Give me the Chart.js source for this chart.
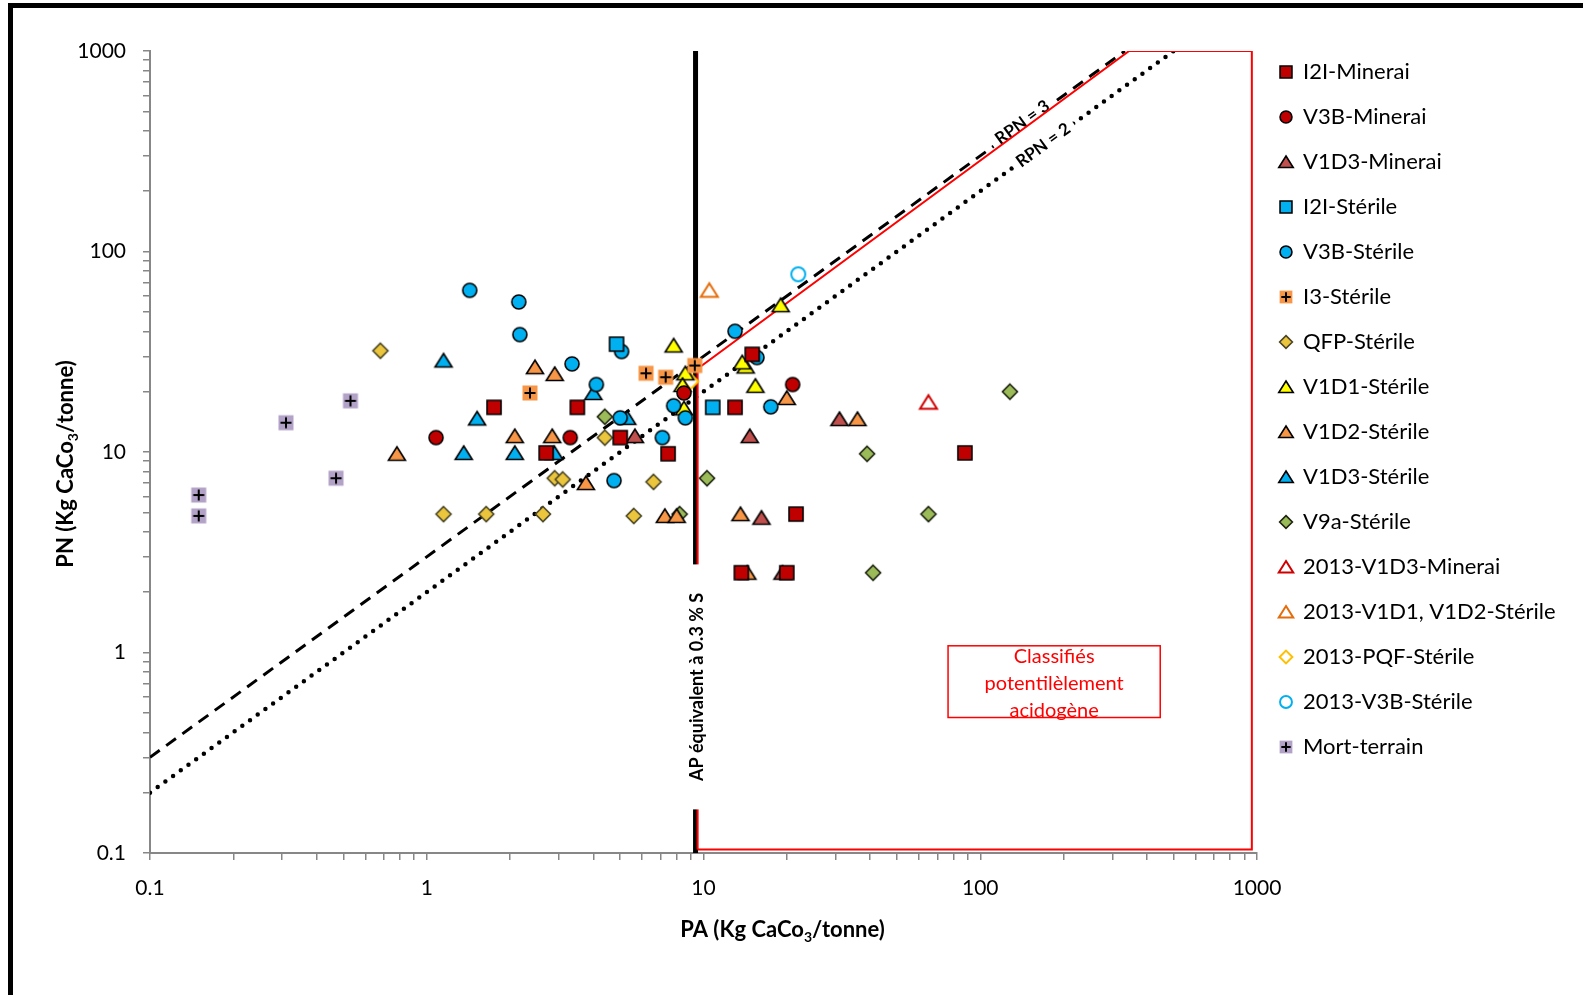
<!DOCTYPE html>
<html lang="fr">
  <head>
    <meta charset="UTF-8" />
    <title>PN vs PA</title>
    <script src="https://cdn.jsdelivr.net/npm/chart.js"></script>
    <style>
      html, body { margin: 0; padding: 0; background: #fff; }
      #wrap { width: 1593px; height: 995px; }
    </style>
  </head>
  <body>
    <div id="wrap"><canvas id="chart" width="1593" height="995"></canvas></div>
    <script>
      // --- donnees (PA, PN) en kg CaCO3/tonne ---
      const i2iMinerai = [[1.75, 16.7], [3.5, 16.7], [2.7, 9.9], [5.0, 11.8], [7.45, 9.8], [15, 30.7], [13, 16.7], [88, 9.9], [21.6, 4.9], [13.7, 2.5], [20, 2.5]];
      const v3bMinerai = [[1.08, 11.8], [3.3, 11.8], [8.5, 19.7], [21, 21.7]];
      const v1d3Minerai = [[5.65, 12], [14.7, 12], [31, 14.6], [16.2, 4.7], [19.3, 2.5]];
      const i2iSterile = [[4.85, 34.5], [10.8, 16.7]];
      const v3bSterile = [[1.43, 64], [2.15, 56], [2.17, 38.5], [3.35, 27.5], [5.06, 31.7], [4.1, 21.7], [5.0, 14.8], [7.1, 11.8], [4.75, 7.2], [7.8, 17], [8.6, 14.8], [13, 40], [15.6, 29.6], [17.5, 16.8]];
      const i3Sterile = [[2.36, 19.7], [6.2, 24.7], [7.3, 23.6], [9.3, 27]];
      const qfpSterile = [[0.68, 32], [1.15, 4.9], [1.64, 4.9], [2.63, 4.9], [2.9, 7.4], [3.1, 7.3], [4.4, 11.8], [6.6, 7.1], [5.6, 4.8]];
      const v1d1Sterile = [[7.8, 34], [8.6, 24.7], [8.4, 21.6], [8.5, 16.5], [19, 54], [14.2, 26.7], [13.8, 28], [15.4, 21.4]];
      const v1d2Sterile = [[0.78, 9.8], [2.46, 26.5], [2.9, 24.5], [2.08, 12], [2.84, 12], [3.76, 7.0], [7.25, 4.8], [8.0, 4.8], [20, 18.6], [36, 14.6], [13.6, 4.9], [14.4, 2.5]];
      const v1d3Sterile = [[1.15, 28.6], [1.52, 14.7], [1.36, 9.9], [2.08, 9.9], [2.89, 9.9], [4.0, 19.7], [5.3, 14.8]];
      const v9aSterile = [[4.4, 15], [10.3, 7.4], [8.2, 4.9], [128, 20], [39, 9.8], [65, 4.9], [41, 2.5]];
      const v1d3Minerai2013 = [[65, 17.7]];
      const v1d1v1d2Sterile2013 = [[10.5, 64]];
      const pqfSterile2013 = [[9.0, 22.5]];
      const v3bSterile2013 = [[22, 77]];
      const mortTerrain = [[0.15, 6.1], [0.15, 4.8], [0.31, 14], [0.47, 7.4], [0.53, 18]];

      // droites de reference
      const rpn3Line = [[0.1, 0.3], [333.3, 1000]];
      const rpn2Line = [[0.1, 0.2], [500, 1000]];
      const apLimit = [[9.36, 0.1], [9.36, 1000]];
      const acidZone = [[9.52, 0.104], [9.52, 26], [345, 1000], [958, 1000], [958, 0.104], [9.52, 0.104]];

      const xTickLabels = ["0.1", "1", "10", "100", "1000"];
      const yTickLabels = ["0.1", "1", "10", "100", "1000"];
      const rpnLabels = [{ text: "RPN = 3", x: 142, y: 440 }, { text: "RPN = 2", x: 169, y: 339 }];
      const apLabel = { text: "AP équivalent à 0.3 % S", x: 9.42, y0: 0.165, y1: 2.75 };
      const zoneBox = { x0: 76.5, x1: 447, y0: 1.08, y1: 0.474, lines: ["Classifiés", "potentilèlement", "acidogène"] };

      const FONT = "Lato, 'Open Sans', sans-serif";

      // petits marqueurs dessines a la main (style Excel)
      function makeMarker(shape, fill, stroke, k) {
        const c = document.createElement("canvas");
        c.width = 22;
        c.height = 22;
        const g = c.getContext("2d");
        const m = 11;
        const hollow = fill === "#ffffff";
        g.lineWidth = hollow ? 2 : 1.6;
        g.lineJoin = "miter";
        g.beginPath();
        if (shape === "square") {
          const a = 7 * k;
          g.rect(m - a, m - a, 2 * a, 2 * a);
        } else if (shape === "circle") {
          g.arc(m, m, 7 * k, 0, Math.PI * 2);
        } else if (shape === "triangle") {
          g.moveTo(m, m - 7 * k);
          g.lineTo(m + 8.5 * k, m + 6.5 * k);
          g.lineTo(m - 8.5 * k, m + 6.5 * k);
          g.closePath();
        } else if (shape === "diamond") {
          const d = 7.5 * k;
          g.moveTo(m, m - d);
          g.lineTo(m + d, m);
          g.lineTo(m, m + d);
          g.lineTo(m - d, m);
          g.closePath();
        } else if (shape === "plus") {
          const a = 7.5 * k;
          g.fillStyle = fill;
          g.fillRect(m - a, m - a, 2 * a, 2 * a);
          g.beginPath();
          g.lineWidth = 2;
          g.strokeStyle = "#000";
          g.moveTo(m - 5.5 * k, m);
          g.lineTo(m + 5.5 * k, m);
          g.moveTo(m, m - 5.5 * k);
          g.lineTo(m, m + 5.5 * k);
          g.stroke();
          return c;
        }
        g.fillStyle = fill;
        g.fill();
        g.strokeStyle = stroke;
        g.stroke();
        return c;
      }

      const seriesDefs = [
        { label: "I2I-Minerai", data: i2iMinerai, shape: "square", fill: "#C00000", stroke: "#000" },
        { label: "V3B-Minerai", data: v3bMinerai, shape: "circle", fill: "#C00000", stroke: "#000" },
        { label: "V1D3-Minerai", data: v1d3Minerai, shape: "triangle", fill: "#C0504D", stroke: "#000" },
        { label: "I2I-Stérile", data: i2iSterile, shape: "square", fill: "#00B0F0", stroke: "#000" },
        { label: "V3B-Stérile", data: v3bSterile, shape: "circle", fill: "#00B0F0", stroke: "#000" },
        { label: "I3-Stérile", data: i3Sterile, shape: "plus", fill: "#F79646", stroke: "#000" },
        { label: "QFP-Stérile", data: qfpSterile, shape: "diamond", fill: "#EBC63C", stroke: "#4A4524" },
        { label: "V1D1-Stérile", data: v1d1Sterile, shape: "triangle", fill: "#FFFF00", stroke: "#000" },
        { label: "V1D2-Stérile", data: v1d2Sterile, shape: "triangle", fill: "#F79646", stroke: "#000" },
        { label: "V1D3-Stérile", data: v1d3Sterile, shape: "triangle", fill: "#00B0F0", stroke: "#000" },
        { label: "V9a-Stérile", data: v9aSterile, shape: "diamond", fill: "#9BBB59", stroke: "#1E2410" },
        { label: "2013-V1D3-Minerai", data: v1d3Minerai2013, shape: "triangle", fill: "#ffffff", stroke: "#D00000" },
        { label: "2013-V1D1, V1D2-Stérile", data: v1d1v1d2Sterile2013, shape: "triangle", fill: "#ffffff", stroke: "#E46C0A" },
        { label: "2013-PQF-Stérile", data: pqfSterile2013, shape: "diamond", fill: "#ffffff", stroke: "#FFC000" },
        { label: "2013-V3B-Stérile", data: v3bSterile2013, shape: "circle", fill: "#ffffff", stroke: "#00B0F0" },
        { label: "Mort-terrain", data: mortTerrain, shape: "plus", fill: "#B3A2C7", stroke: "#000" },
      ];

      const toXY = (pairs) => pairs.map((p) => ({ x: p[0], y: p[1] }));

      const pointSets = seriesDefs.map((s, i) => ({
        label: s.label,
        data: toXY(s.data),
        order: i + 1,
        showLine: false,
        pointStyle: makeMarker(s.shape, s.fill, s.stroke, 1),
        legendMarker: makeMarker(s.shape, s.fill, s.stroke, 0.85),
        pointRadius: 8,
        pointHoverRadius: 8,
      }));

      const lineBase = { label: "", showLine: true, pointRadius: 0, pointHoverRadius: 0, fill: false, tension: 0 };
      const lineSets = [
        { ...lineBase, id: "ap", data: toXY(apLimit), borderColor: "#000", borderWidth: 5, order: 104 },
        { ...lineBase, id: "rpn3", data: toXY(rpn3Line), borderColor: "#000", borderWidth: 3, borderDash: [12, 8], order: 103 },
        { ...lineBase, id: "rpn2", data: toXY(rpn2Line), borderColor: "#000", borderWidth: 4.5, borderDash: [0, 9.5], borderCapStyle: "round", order: 102 },
        { ...lineBase, id: "zone", data: toXY(acidZone), borderColor: "#FF0000", borderWidth: 2, order: 101 },
      ];

      function logTicks(scale) {
        const t = [];
        [0.1, 1, 10, 100].forEach((d) => {
          for (let k = 1; k <= 9; k++) t.push({ value: +(k * d).toPrecision(3) });
        });
        t.push({ value: 1000 });
        scale.ticks = t;
      }

      function powLabel(labels) {
        return (v) => {
          const e = Math.log10(v);
          if (Math.abs(e - Math.round(e)) > 1e-6) return "";
          return labels[Math.round(e) + 1];
        };
      }

      // texte avec indice (CaCo3)
      function drawSub(ctx, parts, x, y, size) {
        const big = "bold " + size + "px " + FONT;
        const small = "bold " + Math.round(size * 0.65) + "px " + FONT;
        let w = 0;
        parts.forEach((p) => {
          ctx.font = p[1] ? small : big;
          w += ctx.measureText(p[0]).width;
        });
        let cx = x - w / 2;
        ctx.textAlign = "left";
        ctx.textBaseline = "middle";
        parts.forEach((p) => {
          ctx.font = p[1] ? small : big;
          ctx.fillText(p[0], cx, p[1] ? y + 7 : y);
          cx += ctx.measureText(p[0]).width;
        });
      }

      const overlay = {
        id: "overlay",
        afterDatasetDraw(chart, args) {
          const ds = chart.data.datasets[args.index];
          const ctx = chart.ctx;
          const xs = chart.scales.x;
          const ys = chart.scales.y;
          if (ds.id === "rpn2") {
            const ang = Math.atan2(
              ys.getPixelForValue(300) - ys.getPixelForValue(0.3),
              xs.getPixelForValue(100) - xs.getPixelForValue(0.1)
            );
            rpnLabels.forEach((l) => {
              ctx.save();
              ctx.translate(xs.getPixelForValue(l.x), ys.getPixelForValue(l.y));
              ctx.rotate(ang);
              ctx.font = "bold 17px " + FONT;
              const w = ctx.measureText(l.text).width;
              ctx.fillStyle = "#fff";
              ctx.fillRect(-w / 2 - 6, -11, w + 12, 22);
              ctx.fillStyle = "#000";
              ctx.textAlign = "center";
              ctx.textBaseline = "middle";
              ctx.fillText(l.text, 0, 0);
              ctx.restore();
            });
          }
          if (ds.id === "zone") {
            const px = xs.getPixelForValue(apLabel.x);
            const ya = ys.getPixelForValue(apLabel.y1);
            const yb = ys.getPixelForValue(apLabel.y0);
            ctx.save();
            ctx.fillStyle = "#fff";
            ctx.fillRect(px - 11, ya, 22, yb - ya);
            ctx.translate(px, (ya + yb) / 2);
            ctx.rotate(-Math.PI / 2);
            ctx.font = "bold 18px " + FONT;
            ctx.fillStyle = "#000";
            ctx.textAlign = "center";
            ctx.textBaseline = "middle";
            ctx.fillText(apLabel.text, 0, 1);
            ctx.restore();
          }
        },
        afterDraw(chart) {
          const ctx = chart.ctx;
          const xs = chart.scales.x;
          const ys = chart.scales.y;
          const a = chart.chartArea;
          ctx.save();
          // encadre rouge
          const bx0 = xs.getPixelForValue(zoneBox.x0);
          const bx1 = xs.getPixelForValue(zoneBox.x1);
          const by0 = ys.getPixelForValue(zoneBox.y0);
          const by1 = ys.getPixelForValue(zoneBox.y1);
          ctx.fillStyle = "#fff";
          ctx.fillRect(bx0, by0, bx1 - bx0, by1 - by0);
          ctx.strokeStyle = "#FF0000";
          ctx.lineWidth = 1.5;
          ctx.strokeRect(bx0, by0, bx1 - bx0, by1 - by0);
          ctx.fillStyle = "#FF0000";
          ctx.font = "20px " + FONT;
          ctx.textAlign = "center";
          ctx.textBaseline = "middle";
          zoneBox.lines.forEach((t, i) => {
            ctx.fillText(t, (bx0 + bx1) / 2, by0 + 11 + i * 27);
          });
          // titres d'axes
          ctx.fillStyle = "#000";
          drawSub(ctx, [["PA (Kg CaCo", false], ["3", true], ["/tonne)", false]], (a.left + a.right) / 2 + 79, a.bottom + 77, 22);
          ctx.save();
          ctx.translate(66, (a.top + a.bottom) / 2 + 12);
          ctx.rotate(-Math.PI / 2);
          drawSub(ctx, [["PN (Kg CaCo", false], ["3", true], ["/tonne)", false]], 0, 0, 22);
          ctx.restore();
          // cadre noir
          ctx.fillStyle = "#000";
          ctx.fillRect(8, 3, 1575, 5);
          ctx.fillRect(8, 3, 5, 992);
          ctx.restore();
        },
      };

      const axisGrid = { drawOnChartArea: false, drawTicks: true, tickLength: 7, color: "#878787", lineWidth: 1.5 };

      const chart = new Chart(document.getElementById("chart"), {
        type: "scatter",
        data: { datasets: [...pointSets, ...lineSets] },
        options: {
          responsive: false,
          animation: false,
          events: [],
          layout: { padding: { top: 38, right: 30, bottom: 0, left: 0 } },
          scales: {
            x: {
              type: "logarithmic",
              min: 0.1,
              max: 1000,
              grid: axisGrid,
              border: { color: "#878787", width: 2 },
              afterBuildTicks: logTicks,
              afterFit: (s) => { s.height = 142; },
              ticks: { autoSkip: false, maxRotation: 0, padding: 16, color: "#000", font: { family: FONT, size: 21 }, callback: powLabel(xTickLabels) },
            },
            y: {
              type: "logarithmic",
              min: 0.1,
              max: 1000,
              grid: axisGrid,
              border: { color: "#878787", width: 2 },
              afterBuildTicks: logTicks,
              afterFit: (s) => { s.width = 150; },
              ticks: { autoSkip: false, padding: 17, color: "#000", font: { family: FONT, size: 21 }, callback: powLabel(yTickLabels) },
            },
          },
          plugins: {
            tooltip: { enabled: false },
            title: { display: true, text: "", fullSize: false, font: { size: 10, lineHeight: 1 }, padding: { top: 3, bottom: 0 } },
            legend: {
              position: "right",
              align: "start",
              labels: {
                usePointStyle: true,
                boxWidth: 12,
                boxHeight: 12,
                padding: 23,
                color: "#000",
                font: { family: FONT, size: 22 },
                generateLabels: (ch) =>
                  ch.data.datasets
                    .map((ds, i) => ({ text: ds.label, pointStyle: ds.legendMarker, fillStyle: "#000", strokeStyle: "#000", lineWidth: 0, hidden: false, datasetIndex: i, fontColor: "#000" }))
                    .filter((it) => it.text),
              },
            },
          },
        },
        plugins: [overlay],
      });

      // recaler la zone de tracage sur la position du graphique d'origine
      const padding = chart.options.layout.padding;
      padding.right += chart.chartArea.right - 1257;
      chart.options.plugins.title.padding.top += 51 - chart.chartArea.top;
      chart.update();
    </script>
  </body>
</html>
